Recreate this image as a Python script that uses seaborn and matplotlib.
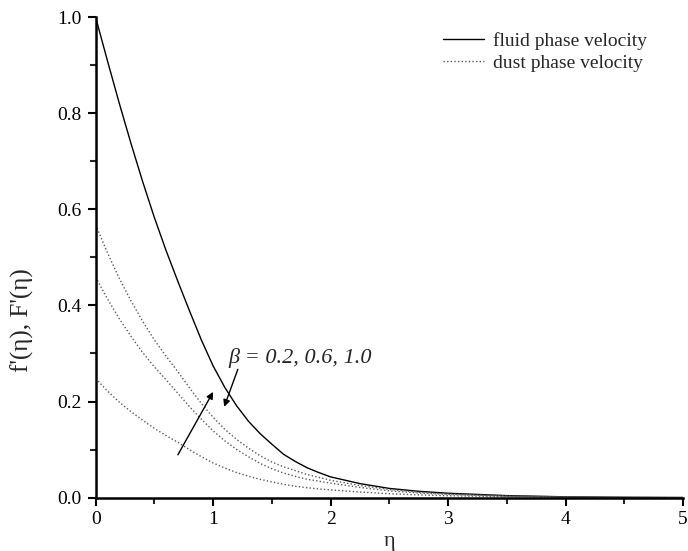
import matplotlib
matplotlib.use("Agg")
import matplotlib.pyplot as plt
import seaborn as sns
from matplotlib.ticker import MultipleLocator, FormatStrFormatter

eta = [0, 0.1, 0.2, 0.3, 0.4, 0.5, 0.6, 0.7, 0.8, 0.9, 1.0, 1.1, 1.2, 1.3, 1.4, 1.5,
       1.6, 1.7, 1.8, 1.9, 2.0, 2.25, 2.5, 2.75, 3.0, 3.5, 4.0, 4.5, 5.0]
fluid = [1.0, 0.91, 0.822, 0.738, 0.658, 0.583, 0.514, 0.45, 0.388, 0.328, 0.274, 0.229,
         0.191, 0.159, 0.133, 0.111, 0.090, 0.075, 0.062, 0.052, 0.043, 0.029, 0.019,
         0.013, 0.009, 0.004, 0.0015, 0.0005, 0.0]
dust_b1 = [0.568, 0.51, 0.457, 0.41, 0.367, 0.328, 0.294, 0.262, 0.228, 0.196, 0.167,
           0.142, 0.121, 0.103, 0.087, 0.074, 0.064, 0.056, 0.048, 0.042, 0.036, 0.025,
           0.017, 0.011, 0.0075, 0.0033, 0.0013, 0.0004, 0.0]
dust_b2 = [0.459, 0.414, 0.373, 0.336, 0.302, 0.272, 0.245, 0.217, 0.189, 0.163, 0.139,
           0.118, 0.100, 0.085, 0.071, 0.060, 0.051, 0.044, 0.038, 0.034, 0.030, 0.021,
           0.014, 0.0095, 0.0065, 0.0028, 0.0011, 0.0003, 0.0]
dust_b3 = [0.248, 0.222, 0.199, 0.179, 0.161, 0.144, 0.129, 0.115, 0.0995, 0.085, 0.072,
           0.0615, 0.052, 0.0445, 0.038, 0.0325, 0.0275, 0.0235, 0.0205, 0.018, 0.016,
           0.0115, 0.008, 0.0055, 0.0038, 0.0018, 0.0007, 0.0002, 0.0]

legend_labels = ["fluid phase velocity", "dust phase velocity"]
beta_text = "β = 0.2, 0.6, 1.0"

sns.set_style("ticks")
plt.rcParams['font.family'] = ['Liberation Serif', 'DejaVu Serif']

fig = plt.figure(figsize=(6.88, 5.51), dpi=100)
ax = fig.add_axes([0.139, 0.097, 0.854, 0.8716])

dot = (0, (1, 1.6))
dust_color = '#5a5a5a'
sns.lineplot(x=eta, y=fluid, ax=ax, color='black', lw=1.0, label=legend_labels[0])
sns.lineplot(x=eta, y=dust_b1, ax=ax, color=dust_color, lw=1.0, linestyle=dot, label=legend_labels[1])
sns.lineplot(x=eta, y=dust_b2, ax=ax, color=dust_color, lw=1.0, linestyle=dot)
sns.lineplot(x=eta, y=dust_b3, ax=ax, color=dust_color, lw=1.0, linestyle=dot)

ax.set_xlim(0, 5)
ax.set_ylim(0, 1.0)
ax.xaxis.set_major_locator(MultipleLocator(1))
ax.xaxis.set_minor_locator(MultipleLocator(0.5))
ax.yaxis.set_major_locator(MultipleLocator(0.2))
ax.yaxis.set_minor_locator(MultipleLocator(0.1))
ax.yaxis.set_major_formatter(FormatStrFormatter('%.1f'))
ax.tick_params(which='major', direction='out', length=6, width=1.5, labelsize=14, colors='black', pad=4)
ax.tick_params(which='minor', direction='out', length=4, width=1.5)
for s in ['top', 'right']:
    ax.spines[s].set_visible(False)
for s in ['left', 'bottom']:
    ax.spines[s].set_linewidth(1.8)
    ax.spines[s].set_color('black')

ax.set_xlabel("η", fontsize=16)
ax.xaxis.set_label_coords(0.5, -0.072)
ax.set_ylabel("f'(η), F'(η)", fontsize=18)
ax.yaxis.set_label_coords(-0.105, 0.37)

ax.legend(loc='upper right', bbox_to_anchor=(0.969, 1.005), frameon=False, fontsize=14,
          handlelength=2.1, handletextpad=0.5, labelspacing=0.2)

ax.annotate("", xy=(1.0, 0.22), xytext=(0.70, 0.089),
            arrowprops=dict(arrowstyle='-|>', color='black', lw=1.0, mutation_scale=10, shrinkA=0, shrinkB=0))
ax.annotate("", xy=(1.094, 0.189), xytext=(1.21, 0.267),
            arrowprops=dict(arrowstyle='-|>', color='black', lw=1.0, mutation_scale=10, shrinkA=0, shrinkB=0))
ax.text(1.13, 0.29, beta_text, fontsize=16, style='italic', ha='left', va='center')

fig.savefig("out.png", dpi=100)
